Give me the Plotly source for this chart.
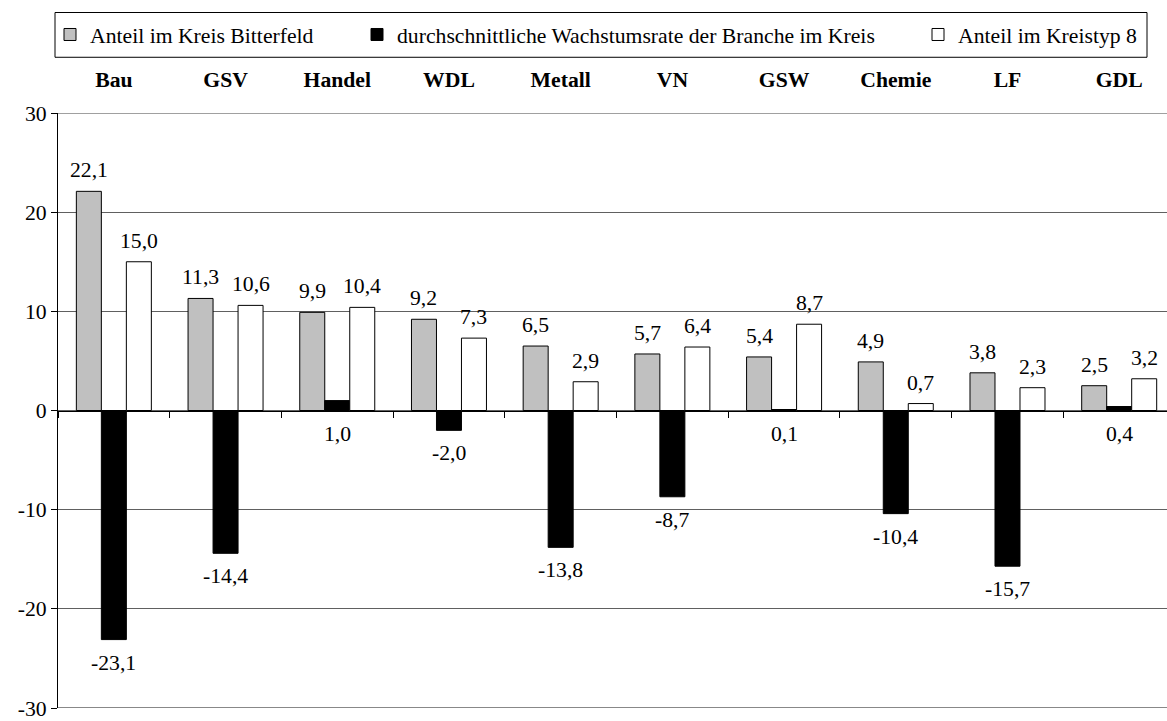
import plotly.graph_objects as go

categories = ["Bau", "GSV", "Handel", "WDL", "Metall", "VN", "GSW", "Chemie", "LF", "GDL"]
anteil_kreis = [22.1, 11.3, 9.9, 9.2, 6.5, 5.7, 5.4, 4.9, 3.8, 2.5]
wachstumsrate = [-23.1, -14.4, 1.0, -2.0, -13.8, -8.7, 0.1, -10.4, -15.7, 0.4]
anteil_kreistyp = [15.0, 10.6, 10.4, 7.3, 2.9, 6.4, 8.7, 0.7, 2.3, 3.2]
series_names = [
    "Anteil im Kreis Bitterfeld",
    "durchschnittliche Wachstumsrate der Branche im Kreis",
    "Anteil im Kreistyp 8",
]
y_ticks = [-30, -20, -10, 0, 10, 20, 30]

FONT = "Liberation Serif"
FS = 21.7
W, H = 1167, 721
ML, MR, MT, MB = 58, 0, 113, 10
XMAX = 9.428
BARGAP = 0.3286
PW, PH = W - ML - MR, H - MT - MB

def px_x(p):  # pixel -> paper x
    return (p - ML) / PW

def px_y(p):  # pixel -> paper y
    return (H - MB - p) / PH

fig = go.Figure()
colors = ["#C0C0C0", "#000000", "#FFFFFF"]
legend_ids = ["legend", "legend2", "legend3"]
series = [anteil_kreis, wachstumsrate, anteil_kreistyp]
for name, vals, col, lg in zip(series_names, series, colors, legend_ids):
    fig.add_trace(go.Bar(
        x=categories, y=vals, name=name, legend=lg,
        marker=dict(color=col, line=dict(color="#000000", width=1)),
        hoverinfo="skip",
    ))

def fmt(v):
    return f"{v:.1f}".replace(".", ",")

px_per_cat = PW / (XMAX + 0.5)
bar_px = px_per_cat * (1 - BARGAP) / 3
annotations = []
for si, vals in enumerate(series):
    shift = (si - 1) * bar_px
    for c, v in zip(categories, vals):
        if si == 1:
            annotations.append(dict(x=c, y=min(v, 0), xref="x", yref="y", text=fmt(v),
                                    showarrow=False, xshift=shift, yshift=-23,
                                    yanchor="middle", font=dict(family=FONT, size=FS, color="black")))
        else:
            annotations.append(dict(x=c, y=max(v, 0), xref="x", yref="y", text=fmt(v),
                                    showarrow=False, xshift=shift, yshift=21,
                                    yanchor="middle", font=dict(family=FONT, size=FS, color="black")))

shapes = [
    # frame lines at the top and bottom of the value range
    dict(type="line", xref="paper", x0=0, x1=1, yref="y", y0=y_ticks[-1], y1=y_ticks[-1],
         line=dict(color="#808080", width=1.5), layer="below"),
    dict(type="line", xref="paper", x0=0, x1=1, yref="y", y0=y_ticks[0], y1=y_ticks[0],
         line=dict(color="#606060", width=1.5), layer="below"),
    # legend frame
    dict(type="rect", xref="paper", yref="paper",
         x0=px_x(55), x1=px_x(1147), y0=px_y(57), y1=px_y(12),
         line=dict(color="black", width=1), fillcolor="rgba(0,0,0,0)"),
]

legend_lefts = [50, 357, 918]
legend_cfg = {}
for lg, left in zip(legend_ids, legend_lefts):
    legend_cfg[lg] = dict(
        orientation="h", x=px_x(left), xanchor="left", y=px_y(34.5), yanchor="middle",
        borderwidth=0, bgcolor="rgba(0,0,0,0)",
        font=dict(family=FONT, size=FS, color="black"),
        itemclick=False, itemdoubleclick=False,
    )

fig.update_layout(
    width=W, height=H,
    margin=dict(l=ML, r=MR, t=MT, b=MB, pad=0),
    plot_bgcolor="white", paper_bgcolor="white",
    barmode="group", bargap=BARGAP, bargroupgap=0,
    font=dict(family=FONT, size=FS, color="black"),
    showlegend=True,
    **legend_cfg,
    xaxis=dict(
        type="category", range=[-0.5, XMAX], anchor="free", position=0.5,
        showline=True, linecolor="black", linewidth=1,
        ticks="outside", tickson="boundaries", ticklen=6, tickcolor="black",
        showticklabels=False, showgrid=False, zeroline=False, fixedrange=True,
    ),
    xaxis2=dict(
        overlaying="x", side="top", range=[-0.5, XMAX],
        tickmode="array", tickvals=list(range(len(categories))), ticktext=categories,
        tickfont=dict(family=FONT, size=FS, color="black", weight="bold"),
        ticks="outside", ticklen=16, tickcolor="rgba(0,0,0,0)",
        showline=False, showgrid=False, zeroline=False, fixedrange=True,
    ),
    yaxis=dict(
        range=[y_ticks[0], y_ticks[-1]], tickmode="array", tickvals=y_ticks,
        ticktext=[str(t) for t in y_ticks], ticklabeloverflow="allow",
        showline=True, linecolor="black", linewidth=1,
        ticks="outside", ticklen=6, tickcolor="black",
        showgrid=True, gridcolor="#606060", gridwidth=1, zeroline=False,
        tickfont=dict(family=FONT, size=FS, color="black"), fixedrange=True,
    ),
    annotations=annotations,
    shapes=shapes,
)
# invisible trace to activate the top category axis
fig.add_trace(go.Scatter(x=[0], y=[0], xaxis="x2", mode="markers", marker=dict(opacity=0),
                         showlegend=False, hoverinfo="skip"))

fig.write_html("out.html", config={"displayModeBar": False},
               post_script="document.body.style.margin='0';")
